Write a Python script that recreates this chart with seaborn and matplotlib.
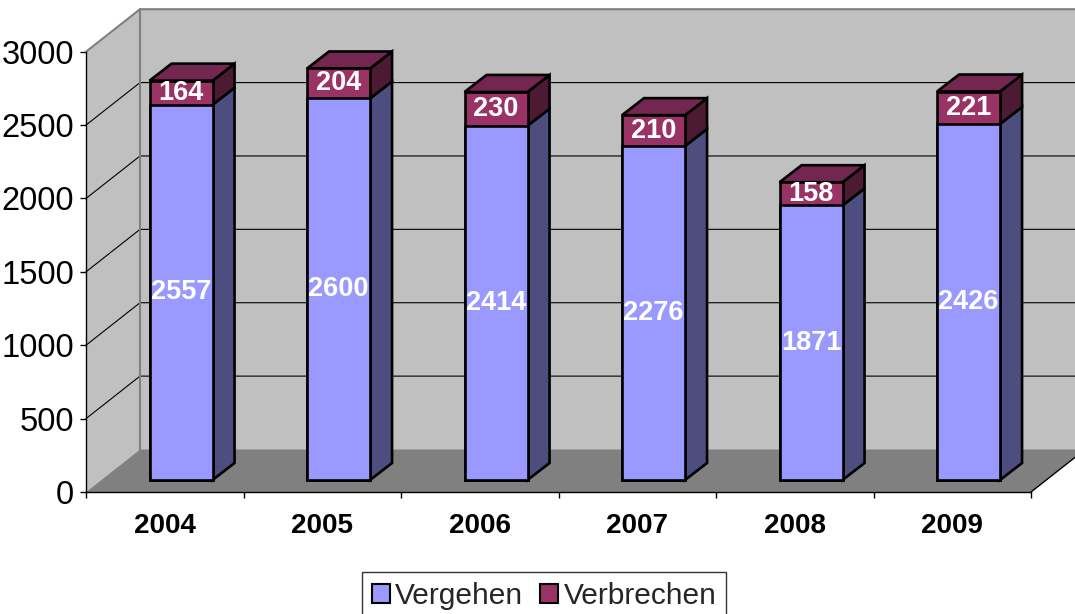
import numpy as np
import pandas as pd
import matplotlib
matplotlib.use('Agg')
import matplotlib.pyplot as plt
import seaborn as sns
from matplotlib.patches import Polygon, Patch
from matplotlib.transforms import ScaledTranslation

# ---- data ----
years = ['2004', '2005', '2006', '2007', '2008', '2009']
vergehen = [2557, 2600, 2414, 2276, 1871, 2426]
verbrechen = [164, 204, 230, 210, 158, 221]
series_names = ['Vergehen', 'Verbrechen']
yticks = [0, 500, 1000, 1500, 2000, 2500, 3000]

sns.set_theme(style='white')
plt.rcParams['font.family'] = ['Liberation Sans', 'DejaVu Sans']

W, H, DPI = 1075, 614, 100
fig = plt.figure(figsize=(W / DPI, H / DPI), dpi=DPI)
fig.patch.set_facecolor('white')
ax = fig.add_axes([86 / W, 1 - 492 / H, 945 / W, 440.3 / H])
ax.set_facecolor('none')

df = pd.DataFrame({'Jahr': years, 'Vergehen': vergehen, 'Verbrechen': verbrechen})
df['Gesamt'] = df['Vergehen'] + df['Verbrechen']

ymax = yticks[-1]
ncat = len(years)
x0, x1 = -0.5, ncat - 0.5
ppx = 945 / ncat
ppy = 440.3 / ymax


def d(px, py):
    return px / ppx, py / ppy


c_verg, c_verb = '#9999ff', '#993366'
c_verg_side = '#4d4d80'
c_verb_side = '#4d1a33'
c_verb_top = '#732650'
EDGE_LW = 1.9

# ---- bars (front faces) ----
sns.barplot(data=df, x='Jahr', y='Gesamt', color=c_verb, saturation=1, width=0.4,
            edgecolor='black', linewidth=EDGE_LW, errorbar=None, ax=ax, zorder=3)
sns.barplot(data=df, x='Jahr', y='Vergehen', color=c_verg, saturation=1, width=0.4,
            edgecolor='black', linewidth=EDGE_LW, errorbar=None, ax=ax, zorder=3)
bars = list(ax.patches)
tot_bars = bars[:ncat]
verg_bars = bars[ncat:]

off = ScaledTranslation(16.3 / DPI, 12 / DPI, fig.dpi_scale_trans)
tr = ax.transData + off
for p in bars:
    p.set_transform(tr)
    p.set_clip_on(False)
    p.set_joinstyle('miter')

bx, by = d(22, 17)
for pt, pv in zip(tot_bars, verg_bars):
    xl = pt.get_x()
    xr = xl + pt.get_width()
    t = pt.get_height()
    v = pv.get_height()
    faces = [
        ([(xr, 0), (xr + bx, by), (xr + bx, v + by), (xr, v)], c_verg_side),
        ([(xr, v), (xr + bx, v + by), (xr + bx, t + by), (xr, t)], c_verb_side),
        ([(xl, t), (xr, t), (xr + bx, t + by), (xl + bx, t + by)], c_verb_top),
    ]
    for verts, col in faces:
        ax.add_patch(Polygon(verts, closed=True, fc=col, ec='black', lw=EDGE_LW,
                             transform=tr, zorder=2.9, clip_on=False, joinstyle='miter'))
    cx = xl + pt.get_width() / 2
    ax.text(cx, v / 2, f'{int(v)}', transform=tr, ha='center', va='center',
            color='white', fontweight='bold', fontsize=19.5, zorder=5)
    ax.text(cx, v + (t - v) / 2, f'{int(round(t - v))}', transform=tr, ha='center',
            va='center', color='white', fontweight='bold', fontsize=19.5, zorder=5)

# ---- walls & floor ----
wx, wy = d(54, 42.5)
ax.add_patch(Polygon([(x0 + wx, wy), (x1 + wx, wy), (x1 + wx, ymax + wy), (x0 + wx, ymax + wy)],
                     closed=True, fc='#c0c0c0', ec='none', zorder=0, clip_on=False))
ax.add_patch(Polygon([(x0, 0), (x0 + wx, wy), (x0 + wx, ymax + wy), (x0, ymax)],
                     closed=True, fc='#c0c0c0', ec='none', zorder=0.1, clip_on=False))
ax.add_patch(Polygon([(x0, 0), (x1, 0), (x1 + wx, wy), (x0 + wx, wy)],
                     closed=True, fc='#808080', ec='none', zorder=0.2, clip_on=False))
# gridlines
for v in yticks[1:-1]:
    ax.plot([x0, x0 + wx, x1 + wx], [v, v + wy, v + wy], color='black', lw=0.8,
            zorder=0.5, clip_on=False)
# wall borders
ax.plot([x0, x0 + wx, x1 + wx], [ymax, ymax + wy, ymax + wy], color='#808080', lw=1.5,
        zorder=0.6, clip_on=False)
ax.plot([x0 + wx, x0 + wx], [wy, ymax + wy], color='#808080', lw=1.5, zorder=0.6, clip_on=False)
ax.plot([x1, x1 + wx], [0, wy], color='black', lw=1, zorder=0.6, clip_on=False)

# ---- axes ----
ax.set_xlim(x0, x1)
ax.set_ylim(0, ymax)
for s in ['top', 'right']:
    ax.spines[s].set_visible(False)
for s in ['left', 'bottom']:
    ax.spines[s].set_color('black')
    ax.spines[s].set_linewidth(1)
    ax.spines[s].set_zorder(1)

ax.set_yticks(yticks)
ax.set_yticklabels([str(v) for v in yticks], fontsize=23.5)
ax.tick_params(axis='y', which='major', left=True, length=4.5, width=1, color='black',
               pad=4, labelcolor='black')
ax.set_xticks(range(ncat))
ax.set_xticklabels(years, fontsize=20, fontweight='bold')
ax.set_xticks(np.arange(x0, x1 + 0.01, 1), minor=True)
ax.tick_params(axis='x', which='major', bottom=True, length=0, pad=15, labelcolor='black')
ax.tick_params(axis='x', which='minor', bottom=True, length=4.5, width=1, color='black')
ax.set_xlabel('')
ax.set_ylabel('')
ax.grid(False)

# ---- legend ----
handles = [Patch(fc=c_verg, ec='black', lw=1.5), Patch(fc=c_verb, ec='black', lw=1.5)]
leg = fig.legend(handles, series_names, loc='upper center',
                 bbox_to_anchor=(544 / W, 1 - 572 / H), ncol=2, frameon=True,
                 fancybox=False, edgecolor='black', fontsize=21.5, handlelength=0.62,
                 handleheight=0.62, handletextpad=0.17, columnspacing=0.55,
                 borderpad=0.33, borderaxespad=0)
leg.get_frame().set_linewidth(1)
leg.get_frame().set_facecolor('white')

fig.savefig('out.png', dpi=DPI, facecolor='white')
